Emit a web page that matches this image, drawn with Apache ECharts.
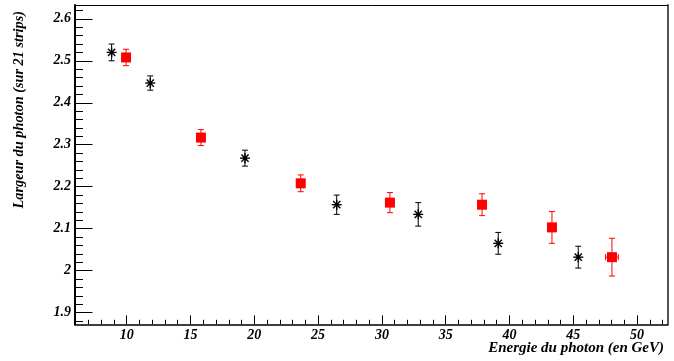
<!DOCTYPE html>
<html>
<head>
<meta charset="utf-8">
<script src="https://cdn.jsdelivr.net/npm/echarts@6/dist/echarts.min.js"></script>
<style>
html,body{margin:0;padding:0;background:#fff;}
#c{width:674px;height:361px;}
</style>
</head>
<body>
<div id="c"></div>
<script>
// ---- data ----
const blackX   = [8.82, 11.85, 19.27, 26.46, 32.85, 39.12, 45.39];
const blackY   = [2.520, 2.447, 2.268, 2.157, 2.134, 2.065, 2.032];
const blackErr = [0.020, 0.017, 0.019, 0.023, 0.028, 0.026, 0.026];

const redX    = [9.95, 15.82, 23.64, 30.63, 37.85, 43.33, 48.03];
const redY    = [2.508, 2.317, 2.208, 2.162, 2.157, 2.103, 2.032];
const redErr  = [0.0195, 0.019, 0.020, 0.024, 0.026, 0.038, 0.045];
const redXErr = [0.3, 0.3, 0.3, 0.3, 0.3, 0.3, 0.5];

const xMajor = [10, 15, 20, 25, 30, 35, 40, 45, 50];
const xTickLabels = ['10', '15', '20', '25', '30', '35', '40', '45', '50'];
const xMinor = [6,7,8,9,11,12,13,14,16,17,18,19,21,22,23,24,26,27,28,29,31,32,33,34,36,37,38,39,41,42,43,44,46,47,48,49,51,52];

const yMajor = [1.9, 2.0, 2.1, 2.2, 2.3, 2.4, 2.5, 2.6];
const yTickLabels = ['1.9', '2', '2.1', '2.2', '2.3', '2.4', '2.5', '2.6'];
const yMinor = [1.88,1.92,1.94,1.96,1.98,2.02,2.04,2.06,2.08,2.12,2.14,2.16,2.18,2.22,2.24,2.26,2.28,2.32,2.34,2.36,2.38,2.42,2.44,2.46,2.48,2.52,2.54,2.56,2.58,2.62];

const xRange = [5.95, 52.4];
const yRange = [1.872, 2.633];

const xTitle = 'Energie du photon (en GeV)';
const yTitle = 'Largeur du photon (sur 21 strips)';

// ---- chart ----
const FONT = 'Liberation Serif';
const chart = echarts.init(document.getElementById('c'), null, {renderer: 'canvas'});

function labelFor(values, labels) {
  return function (v) {
    for (let i = 0; i < values.length; i++) {
      if (Math.abs(values[i] - v) < 1e-6) return labels[i];
    }
    return '';
  };
}

function makeRenderer(color, kind) {
  return function (params, api) {
    const x = api.value(0), y = api.value(1), e = api.value(2), xe = api.value(3);
    const c = api.coord([x, y]);
    const t = api.coord([x, y + e]);
    const b = api.coord([x, y - e]);
    const cap = 3;
    const ls = {stroke: color, lineWidth: 1};
    const children = [
      {type: 'line', shape: {x1: c[0], y1: t[1], x2: c[0], y2: b[1]}, style: ls},
      {type: 'line', shape: {x1: c[0] - cap, y1: t[1], x2: c[0] + cap, y2: t[1]}, style: ls},
      {type: 'line', shape: {x1: c[0] - cap, y1: b[1], x2: c[0] + cap, y2: b[1]}, style: ls}
    ];
    if (xe > 0) {
      const l = api.coord([x - xe, y]);
      const r = api.coord([x + xe, y]);
      children.push({type: 'line', shape: {x1: l[0], y1: c[1], x2: r[0], y2: c[1]}, style: ls});
      children.push({type: 'line', shape: {x1: l[0], y1: c[1] - cap, x2: l[0], y2: c[1] + cap}, style: ls});
      children.push({type: 'line', shape: {x1: r[0], y1: c[1] - cap, x2: r[0], y2: c[1] + cap}, style: ls});
    }
    if (kind === 'square') {
      const h = 5;
      children.push({type: 'rect', shape: {x: c[0] - h, y: c[1] - h, width: 2 * h, height: 2 * h},
        style: {fill: color}});
    } else {
      const r = 5, d = 3.6;
      const ss = {stroke: color, lineWidth: 1.4};
      children.push({type: 'line', shape: {x1: c[0] - r, y1: c[1], x2: c[0] + r, y2: c[1]}, style: ss});
      children.push({type: 'line', shape: {x1: c[0], y1: c[1] - r, x2: c[0], y2: c[1] + r}, style: ss});
      children.push({type: 'line', shape: {x1: c[0] - d, y1: c[1] - d, x2: c[0] + d, y2: c[1] + d}, style: ss});
      children.push({type: 'line', shape: {x1: c[0] - d, y1: c[1] + d, x2: c[0] + d, y2: c[1] - d}, style: ss});
      children.push({type: 'circle', shape: {cx: c[0], cy: c[1], r: 1.8}, style: {fill: color}});
    }
    return {type: 'group', children: children};
  };
}

const blackData = blackX.map((x, i) => [x, blackY[i], blackErr[i], 0]);
const redData = redX.map((x, i) => [x, redY[i], redErr[i], redXErr[i]]);

const labelStyle = {fontFamily: FONT, fontWeight: 'bold', fontStyle: 'italic', fontSize: 14, color: '#000'};

const option = {
  animation: false,
  backgroundColor: '#fff',
  grid: {left: 75, right: 6.3, top: 5, bottom: 36.7, containLabel: false},
  xAxis: [
    {
      type: 'value', position: 'bottom', min: xRange[0], max: xRange[1],
      axisLine: {show: true, onZero: false, lineStyle: {color: '#000', width: 1.6}},
      axisTick: {show: true, inside: true, length: 9, customValues: xMajor, lineStyle: {color: '#000', width: 1}},
      axisLabel: Object.assign({show: true, margin: 4, customValues: xMajor, formatter: labelFor(xMajor, xTickLabels)}, labelStyle),
      splitLine: {show: false}
    },
    {
      type: 'value', position: 'bottom', min: xRange[0], max: xRange[1],
      axisLine: {show: false, onZero: false},
      axisTick: {show: true, inside: true, length: 4.5, customValues: xMinor, lineStyle: {color: '#000', width: 1}},
      axisLabel: {show: false},
      splitLine: {show: false}
    },
    {
      type: 'value', position: 'top', min: xRange[0], max: xRange[1],
      axisLine: {show: true, onZero: false, lineStyle: {color: '#000', width: 1}},
      axisTick: {show: false}, axisLabel: {show: false}, splitLine: {show: false}
    }
  ],
  yAxis: [
    {
      type: 'value', position: 'left', min: yRange[0], max: yRange[1],
      axisLine: {show: true, onZero: false, lineStyle: {color: '#000', width: 2}},
      axisTick: {show: true, inside: true, length: 17.5, customValues: yMajor, lineStyle: {color: '#000', width: 1}},
      axisLabel: Object.assign({show: true, margin: 4, customValues: yMajor, formatter: labelFor(yMajor, yTickLabels)}, labelStyle),
      splitLine: {show: false}
    },
    {
      type: 'value', position: 'left', min: yRange[0], max: yRange[1],
      axisLine: {show: false, onZero: false},
      axisTick: {show: true, inside: true, length: 8, customValues: yMinor, lineStyle: {color: '#000', width: 1}},
      axisLabel: {show: false}, splitLine: {show: false}
    },
    {
      type: 'value', position: 'right', min: yRange[0], max: yRange[1],
      axisLine: {show: true, onZero: false, lineStyle: {color: '#5a5050', width: 2}},
      axisTick: {show: false}, axisLabel: {show: false}, splitLine: {show: false}
    }
  ],
  graphic: [
    {
      type: 'text', x: 664, y: 348,
      style: {text: xTitle, fontFamily: FONT, fontWeight: 'bold', fontStyle: 'italic', fontSize: 15,
        fill: '#000', align: 'right', verticalAlign: 'middle'}
    },
    {
      type: 'text', x: 19, y: 11, rotation: Math.PI / 2,
      style: {text: yTitle, fontFamily: FONT, fontWeight: 'bold', fontStyle: 'italic', fontSize: 14.3,
        fill: '#000', align: 'right', verticalAlign: 'middle'}
    }
  ],
  series: [
    {
      type: 'custom', name: 'black', xAxisIndex: 0, yAxisIndex: 0,
      data: blackData, renderItem: makeRenderer('#000000', 'star'),
      encode: {x: 0, y: 1}, clip: false
    },
    {
      type: 'custom', name: 'red', xAxisIndex: 0, yAxisIndex: 0,
      data: redData, renderItem: makeRenderer('#ff0000', 'square'),
      encode: {x: 0, y: 1}, clip: false
    }
  ]
};
chart.setOption(option);
</script>
</body>
</html>
